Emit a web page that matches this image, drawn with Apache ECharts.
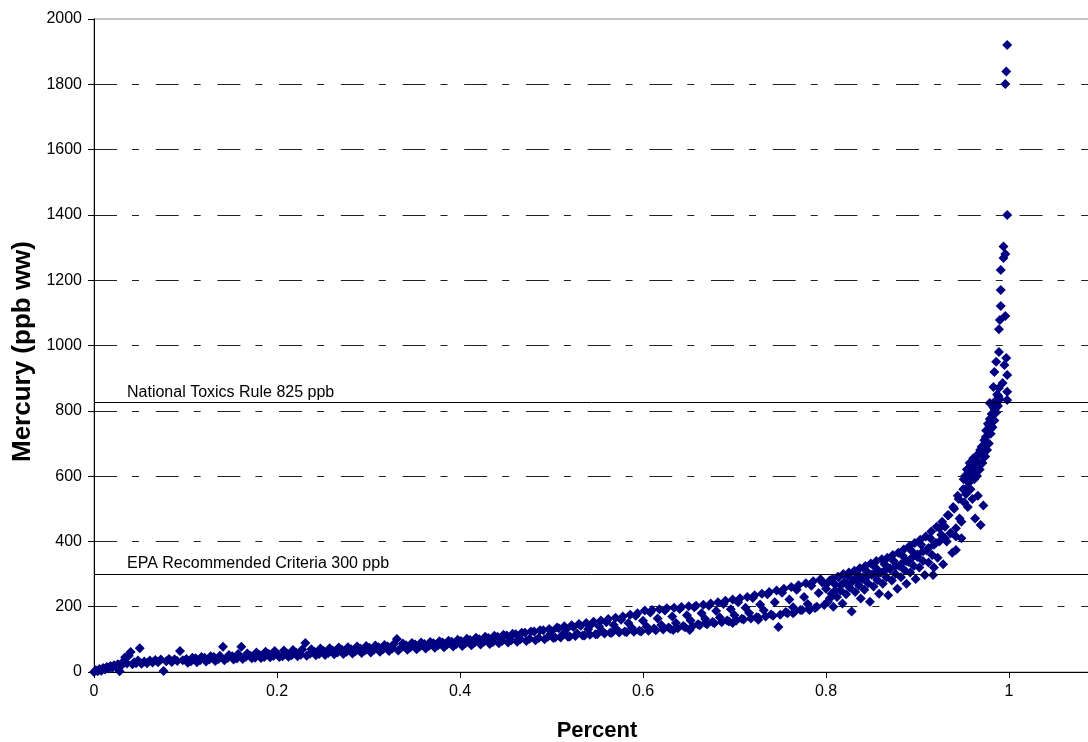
<!DOCTYPE html>
<html>
<head>
<meta charset="utf-8">
<script src="https://cdn.jsdelivr.net/npm/echarts@6/dist/echarts.min.js"></script>
<style>
  html, body { margin: 0; padding: 0; background: #fff; }
  #main { width: 1088px; height: 742px; }
</style>
</head>
<body>
<div id="main"></div>
<script>
// percentile rank of each fish sample (x)
var pctRank = [
  0.000,0.002,0.004,0.006,0.008,0.010,0.012,0.014,0.016,0.018,0.020,0.022,0.024,0.026,0.028,0.030,
  0.032,0.034,0.036,0.038,0.040,0.042,0.044,0.046,0.048,0.050,0.052,0.055,0.058,0.061,0.064,0.067,
  0.070,0.073,0.076,0.079,0.082,0.085,0.088,0.091,0.094,0.097,
  0.101,0.106,0.111,0.116,0.121,0.126,0.131,0.136,0.141,0.146,0.151,0.156,0.161,0.166,0.171,0.176,
  0.181,0.186,0.191,0.196,0.201,0.206,0.211,0.216,0.221,0.226,0.231,0.236,0.241,0.246,0.251,0.256,
  0.261,0.266,0.271,0.276,0.281,0.286,0.291,0.296,0.301,0.306,0.311,0.316,0.321,0.326,0.331,0.336,
  0.341,0.346,0.351,0.356,0.361,0.366,0.371,0.376,0.381,0.386,0.391,0.396,0.401,0.406,0.411,0.416,
  0.421,0.426,0.431,0.436,0.441,0.446,0.451,0.456,0.461,0.466,0.471,0.476,0.481,0.486,0.491,0.496,
  0.500,0.504,0.508,0.512,0.516,0.520,0.524,0.528,0.532,0.536,0.540,0.544,0.548,0.552,0.556,0.560,
  0.564,0.568,0.572,0.576,0.580,0.584,0.588,0.592,0.596,0.600,0.604,0.608,0.612,0.616,0.620,0.624,
  0.628,0.632,0.636,0.640,0.644,0.648,0.652,0.656,0.660,0.664,0.668,0.672,0.676,0.680,0.684,0.688,
  0.692,0.696,0.700,0.704,0.708,0.712,0.716,0.720,0.724,0.728,0.732,0.736,0.740,0.744,0.748,0.752,
  0.756,0.760,0.764,0.768,0.772,0.776,0.780,0.784,0.788,0.792,0.796,
  0.633,0.651,0.668,0.698,0.726,0.764,0.782,
  0.800,0.802,0.804,0.806,0.808,0.810,0.812,0.814,0.816,0.818,0.820,0.822,0.824,0.826,0.828,0.830,
  0.832,0.834,0.836,0.838,0.840,0.842,0.844,0.846,0.848,0.850,0.852,0.854,0.856,0.858,0.860,0.862,
  0.864,0.866,0.868,0.870,0.872,0.874,0.876,0.878,0.880,0.882,0.884,0.886,0.888,0.890,0.892,0.894,
  0.896,0.898,0.900,0.902,0.904,0.906,0.908,0.910,0.912,0.914,0.916,0.918,0.920,0.922,0.924,0.926,
  0.928,0.930,0.932,0.934,0.936,0.938,0.940,0.942,0.944,0.946,0.948,0.950,
  0.917,0.942,
  0.951,0.952,0.953,0.954,0.955,0.956,0.957,0.958,0.959,0.960,0.961,0.962,0.963,0.964,0.965,0.966,
  0.967,0.968,0.969,0.970,0.971,0.972,0.973,0.974,0.975,0.976,0.977,0.978,0.979,0.980,0.981,0.982,
  0.983,0.984,0.985,0.986,0.987,0.988,0.989,0.990,
  0.979,0.983,0.984,0.986,0.989,0.989,0.990,0.991,0.991,0.991,0.994,0.994,0.996,0.996,0.996,0.997,
  0.997,0.998,0.998,0.998,0.998,0.998,0.993,0.995
];

// mercury concentration, ppb wet weight (y)
var mercuryPpb = [
  0,5,2,9,4,12,8,15,11,18,13,21,16,24,2,20,
  32,45,26,50,61,24,30,27,35,73,25,32,27,35,29,37,
  30,38,3,33,40,31,39,34,64,36,
  40,33,42,36,44,38,46,40,77,43,48,41,77,47,50,44,
  52,46,55,49,53,48,57,51,59,53,89,56,62,55,64,58,
  66,60,68,62,70,64,72,66,74,68,76,70,78,72,101,75,
  82,76,84,78,86,80,88,82,90,84,93,86,95,88,98,90,
  100,93,104,92,108,95,112,97,116,100,120,102,124,104,128,108,
  125,106,134,114,130,109,138,118,142,112,131,147,116,140,124,152,
  120,144,129,160,124,150,135,172,126,157,139,182,133,164,144,188,
  136,170,150,193,141,174,158,198,146,180,162,203,153,187,167,208,
  158,192,174,214,163,197,181,227,168,207,189,238,176,214,138,243,
  184,222,198,252,190,230,208,264,196,242,274,
  129,129,150,150,160,180,190,
  255,215,280,240,200,268,230,290,250,210,275,238,295,258,185,282,
  245,300,265,225,290,252,310,272,215,298,262,320,282,240,305,270,
  330,290,235,315,280,340,300,255,325,290,355,312,270,338,305,370,
  325,285,352,320,390,340,297,372,335,410,358,320,395,350,440,420,
  330,445,400,480,425,365,500,415,540,470,410,560,
  297,374,
  520,600,545,620,505,580,640,560,610,530,655,590,470,640,600,540,
  670,620,450,690,640,510,710,660,740,680,760,700,775,730,790,750,
  810,770,830,795,850,815,870,835,
  824,873,919,950,980,1050,1078,1121,1170,1231,1268,1303,1090,1280,1801,962,
  1839,1920,1400,910,858,833,885,940
];

var edgeRank = [
  0.1025,0.1075,0.1125,0.1175,0.1225,0.1275,0.1325,0.1375,0.1425,0.1475,0.1525,0.1575,0.1625,0.1675,
  0.1725,0.1775,0.1825,0.1875,0.1925,0.1975,0.2025,0.2075,0.2125,0.2175,0.2225,0.2275,0.2325,0.2375,
  0.2425,0.2475,0.2525,0.2575,0.2625,0.2675,0.2725,0.2775,0.2825,0.2875,0.2925,0.2975,0.3025,0.3075,
  0.3125,0.3175,0.3225,0.3275,0.3325,0.3375,0.3425,0.3475,0.3525,0.3575,0.3625,0.3675,0.3725,0.3775,
  0.3825,0.3875,0.3925,0.3975,0.4025,0.4075,0.4125,0.4175,0.4225,0.4275,0.4325,0.4375,0.4425,0.4475,
  0.4525,0.4575,0.4625,0.4675,0.4725,0.4775,0.4825,0.4875,0.4925,0.4975,
  0.502,0.506,0.510,0.514,0.518,0.522,0.526,0.530,0.534,0.538,0.542,0.546,0.550,0.554,0.558,0.562,
  0.566,0.570,0.574,0.578,0.582,0.586,0.590,0.594,0.598,0.602,0.606,0.610,0.614,0.618,0.622,0.626,
  0.630,0.634,0.638,0.642,0.646,0.650,0.654,0.658,0.662,0.666,0.670,0.674,0.678,0.682,0.686,0.690,
  0.694,0.698,0.702,0.706,0.710,0.714,0.718,0.722,0.726,0.730,0.734,0.738,0.742,0.746,0.750,0.754,
  0.758,0.762,0.766,0.770,0.774,0.778,0.782,0.786,0.790,0.794,0.798,
  0.801,0.804,0.807,0.810,0.813,0.816,0.819,0.822,0.825,0.828,0.831,0.834,0.837,0.840,0.843,0.846,
  0.849,0.852,0.855,0.858,0.861,0.864,0.867,0.870,0.873,0.876,0.879,0.882,0.885,0.888,0.891,0.894,
  0.897,0.900,0.903,0.906,0.909,0.912,0.915,0.918,0.921,0.924,0.927,0.930,0.933,0.936,0.939,0.942,
  0.945,0.948,
  0.9505,0.9525,0.9545,0.9565,0.9585,0.9605,0.9625,0.9645,0.9665,0.9685,0.9705,0.9725,0.9745,0.9765,
  0.9785,0.9805,0.9825,0.9845,0.9865,0.9885
];

var edgePpb = [
  28,44,30,46,32,48,34,50,36,52,38,55,40,57,
  42,60,43,62,45,64,46,66,47,67,48,69,50,70,
  51,72,52,73,54,75,55,76,57,78,58,80,60,81,
  62,83,64,85,66,87,68,89,70,90,72,92,74,94,
  76,96,78,99,80,102,82,105,84,108,86,111,88,114,
  90,117,93,120,95,124,97,128,100,132,
  104,136,106,140,108,143,110,147,112,150,114,154,116,158,118,162,
  120,166,121,170,122,175,123,180,124,188,126,190,128,192,130,195,
  132,197,134,199,137,201,140,203,143,206,146,210,149,214,152,218,
  155,222,158,226,161,230,164,235,167,240,170,245,172,250,175,255,
  180,260,185,266,190,272,195,278,200,284,205,
  270,225,285,250,292,265,300,270,305,275,310,280,318,285,325,295,
  332,300,340,305,345,310,350,318,358,325,365,330,375,340,385,350,
  395,360,405,370,415,380,430,390,445,400,460,410,480,425,505,440,
  530,460,
  590,560,600,615,590,630,620,660,645,680,665,690,720,740,
  755,770,790,805,820,845
];

var natToxicsRule = 825;
var epaCriteria = 300;

var scatterData = pctRank.map(function (x, i) {
  return [x, mercuryPpb[i]];
}).concat(edgeRank.map(function (x, i) {
  return [x, edgePpb[i]];
}));

var myChart = echarts.init(document.getElementById('main'));
var option = {
  animation: false,
  backgroundColor: '#fff',
  textStyle: { fontFamily: 'Liberation Sans, Arial, sans-serif' },
  grid: {
    left: 94,
    top: 19,
    bottom: 70,
    right: -104,
    outerBoundsMode: 'none',
    containLabel: false,
    show: true,
    borderColor: '#888',
    borderWidth: 1
  },
  xAxis: {
    type: 'value',
    min: 0,
    max: 1.2,
    interval: 0.2,
    name: 'Percent',
    nameLocation: 'middle',
    nameGap: 48,
    nameTextStyle: { fontSize: 22, fontWeight: 'bold', color: '#000', padding: [0, 92, 0, 0] },
    axisLine: { lineStyle: { color: '#000', width: 1 } },
    axisTick: { show: true, length: 6, lineStyle: { color: '#000' } },
    axisLabel: {
      fontSize: 16, color: '#000', margin: 12,
      formatter: function (v) { return String(v); }
    },
    splitLine: { show: false }
  },
  yAxis: {
    type: 'value',
    min: 0,
    max: 2000,
    interval: 200,
    name: 'Mercury (ppb ww)',
    nameLocation: 'middle',
    nameGap: 57,
    nameTextStyle: { fontSize: 26, fontWeight: 'bold', color: '#000', padding: [0, 12, 0, 0] },
    axisLine: { show: true, lineStyle: { color: '#000', width: 1 } },
    axisTick: { show: true, length: 6, lineStyle: { color: '#000' } },
    axisLabel: {
      fontSize: 16, color: '#000', margin: 12,
      formatter: function (v) { return String(v); }
    },
    splitLine: {
      show: true,
      showMinLine: false,
      showMaxLine: false,
      lineStyle: { color: '#222', width: 1, type: [23, 15, 7, 16.7] }
    }
  },
  series: [
    {
      name: 'Mercury',
      type: 'scatter',
      symbol: 'diamond',
      symbolSize: 10,
      itemStyle: { color: '#000080', opacity: 1 },
      data: scatterData,
      markLine: {
        silent: true,
        symbol: 'none',
        animation: false,
        lineStyle: { color: '#000', width: 1, type: 'solid' },
        label: {
          show: true,
          position: 'insideStartTop',
          distance: [33, 2],
          fontSize: 16,
          color: '#000'
        },
        data: [
          { yAxis: natToxicsRule, label: { formatter: 'National Toxics Rule 825 ppb' } },
          { yAxis: epaCriteria, label: { formatter: 'EPA Recommended Criteria 300 ppb' } }
        ]
      }
    }
  ]
};
myChart.setOption(option);
</script>
</body>
</html>
